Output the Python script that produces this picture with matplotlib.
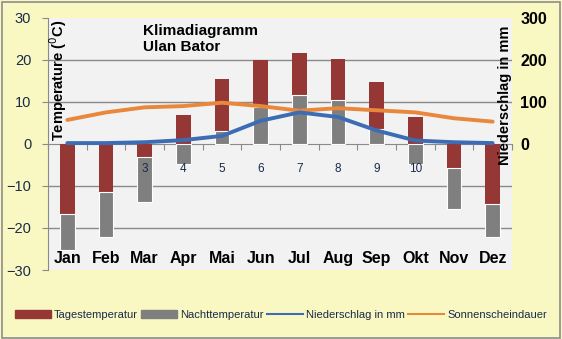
import numpy as np
import matplotlib
matplotlib.use("Agg")
import matplotlib.pyplot as plt
from matplotlib.patches import Patch
from matplotlib.lines import Line2D

plt.rcParams["font.family"] = ["Liberation Sans", "DejaVu Sans"]

# ── data ──────────────────────────────────────────────────────────────────────
MONTHS = ["Jan", "Feb", "Mar", "Apr", "Mai", "Jun",
          "Jul", "Aug", "Sep", "Okt", "Nov", "Dez"]
TAG    = [-16.7, -11.4, -3.0, 6.9, 15.4, 19.9, 21.7, 20.3, 14.8, 6.3, -5.7, -14.2]
NACHT  = [-25.2, -22.1, -13.8, -4.7, 3.0, 8.7, 11.7, 10.4, 3.5, -4.7, -15.4, -22.1]
NIEDER = [2, 2, 4, 9, 19, 55, 75, 64, 32, 8, 4, 2]
SONNE  = [57, 75, 87, 90, 98, 90, 79, 85, 80, 75, 61, 53]
NUM_LABELS = ["3", "4", "5", "6", "7", "8", "9", "10"]   # stray labels under Mar..Okt

RED    = "#953735"
GRAY   = "#7F7F7F"
BLUE   = "#3C6DB4"
ORANGE = "#E9883C"
BG     = "#FAF8C2"
PLOT   = "#F2F2F2"
TXT    = "#1B2A4A"

fig = plt.figure(figsize=(5.62, 3.39), dpi=100, facecolor=BG)
fig.patches.append(plt.Rectangle((0.003, 0.004), 0.993, 0.99, transform=fig.transFigure,
                                 fill=False, ec="#8C8C8C", lw=1.2))
ax = fig.add_axes([0.0854, 0.2035, 0.8256, 0.744])
ax.set_facecolor(PLOT)

x = np.arange(len(MONTHS))
w = 0.38

# bars: day temperature from 0, night from 0 (or below the day bar if both negative)
nacht_bottom = [t if (t < 0 and n < 0) else 0 for t, n in zip(TAG, NACHT)]
nacht_h = [n - b for n, b in zip(NACHT, nacht_bottom)]
ax.bar(x, TAG, width=w, color=RED, zorder=2)
ax.bar(x, nacht_h, bottom=nacht_bottom, width=w, color=GRAY,
       edgecolor="white", linewidth=0.8, zorder=3)

ax.set_xlim(-0.5, len(MONTHS) - 0.5)
ax.set_ylim(-30, 30)
ax.set_yticks(range(-30, 31, 10))
for yv in [-20, -10, 10, 20]:
    ax.axhline(yv, color="#8A8A8A", lw=1, zorder=1)

for s in ["top", "right"]:
    ax.spines[s].set_visible(False)
ax.spines["left"].set_color("#8A8A8A")
ax.spines["bottom"].set_position(("data", 0))
ax.spines["bottom"].set_color("#8A8A8A")
ax.spines["bottom"].set_zorder(1)
ax.set_xticks(np.arange(-0.5, len(MONTHS), 1))
ax.tick_params(axis="x", length=4, color="#8A8A8A", labelbottom=False)
ax.tick_params(axis="y", length=4, color="#8A8A8A", labelsize=10.5, labelcolor=TXT, pad=8)

# month names along the bottom, inside the plot area
for xi, m in zip(x, MONTHS):
    ax.text(xi, -27.3, m, ha="center", va="center", fontsize=11.5,
            fontweight="bold", color="black", zorder=5)
for xi, lab in zip(x[2:10], NUM_LABELS):
    ax.text(xi, -6, lab, ha="center", va="center", fontsize=8.5, color=TXT, zorder=5)

ax.text(-0.25, 29.5, "Temperature ($^0$C)", rotation=90, ha="center", va="top",
        fontsize=10.5, fontweight="bold", color="black")
ax.text(0.205, 0.975, "Klimadiagramm\nUlan Bator", transform=ax.transAxes, ha="left",
        va="top", fontsize=11, fontweight="bold", linespacing=1.2)

# secondary axis: precipitation and sunshine
ax2 = ax.twinx()
ax2.set_ylim(-300, 300)
ax2.set_yticks([0, 100, 200, 300])
for s in ["top", "left", "bottom", "right"]:
    ax2.spines[s].set_visible(False)
ax2.tick_params(axis="y", length=0, labelsize=11.5, pad=6)
for lab in ax2.get_yticklabels():
    lab.set_fontweight("bold")
ax2.plot(x, SONNE, color=ORANGE, lw=2.8, solid_joinstyle="round", solid_capstyle="round", zorder=4)
ax2.plot(x, NIEDER, color=BLUE, lw=2.8, solid_joinstyle="round", solid_capstyle="round", zorder=4)
ax2.text(11.32, 116, "Niederschlag in mm", rotation=90, ha="center", va="center",
         fontsize=10.5, fontweight="bold", color="black")

handles = [Patch(color=RED, label="Tagestemperatur"),
           Patch(color=GRAY, label="Nachttemperatur"),
           Line2D([], [], color=BLUE, lw=1.5, label="Niederschlag in mm"),
           Line2D([], [], color=ORANGE, lw=1.5, label="Sonnenscheindauer")]
leg = fig.legend(handles=handles, loc="center", bbox_to_anchor=(0.5, 0.07), ncol=4,
                 frameon=False, fontsize=8, handlelength=3.2, handleheight=0.7,
                 handletextpad=0.3, columnspacing=0.3)
for t in leg.get_texts():
    t.set_color(TXT)

fig.savefig("out.png", dpi=100, facecolor=BG)
